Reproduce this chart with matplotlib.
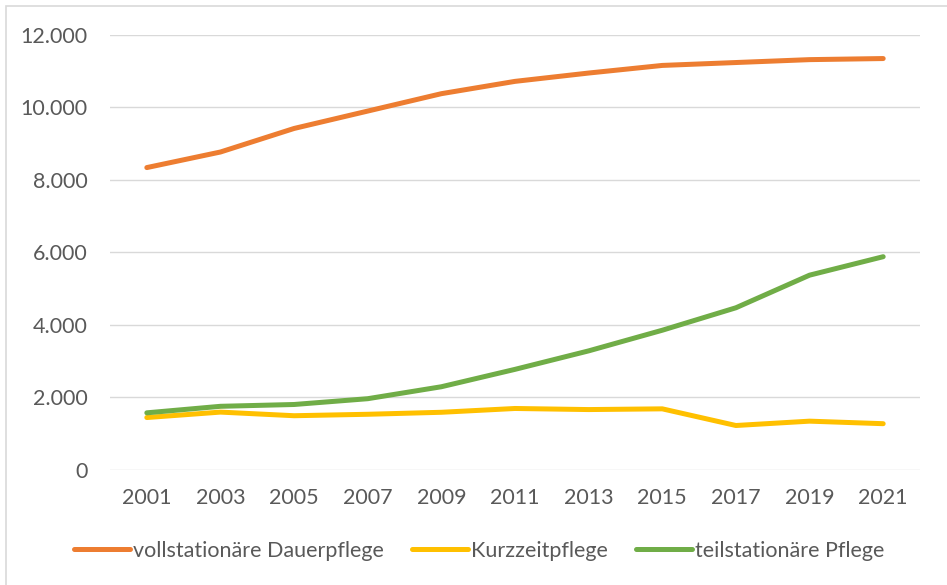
import numpy as np
import matplotlib.pyplot as plt
from matplotlib.patches import Rectangle

years = ['2001', '2003', '2005', '2007', '2009', '2011', '2013', '2015', '2017', '2019', '2021']
dauerpflege = [8340, 8770, 9420, 9900, 10380, 10720, 10950, 11160, 11240, 11320, 11350]
kurzzeitpflege = [1440, 1590, 1490, 1530, 1585, 1690, 1660, 1680, 1220, 1340, 1270]
teilstationaer = [1570, 1750, 1800, 1960, 2290, 2770, 3280, 3850, 4470, 5370, 5880]

labels = ['vollstationäre Dauerpflege', 'Kurzzeitpflege', 'teilstationäre Pflege']
colors = ['#ED7D31', '#FFC000', '#70AD47']

plt.rcParams['font.family'] = ['Lato', 'DejaVu Sans']
text_color = '#595959'

fig = plt.figure(figsize=(9.47, 5.85), dpi=100)
ax = fig.add_axes([110 / 947, 1 - 469.7 / 585, 810 / 947, 434.7 / 585])

x = np.arange(len(years))
for vals, lab, col in zip([dauerpflege, kurzzeitpflege, teilstationaer], labels, colors):
    ax.plot(x, vals, color=col, lw=3.6, label=lab, solid_capstyle='round')

ax.set_xlim(-0.5, len(years) - 0.5)
ax.set_ylim(0, 12000)
ax.set_yticks(np.arange(0, 12001, 2000))
ax.set_yticklabels(['0' if v == 0 else f'{v // 1000}.000' for v in range(0, 12001, 2000)])
ax.set_xticks(x)
ax.set_xticklabels(years)
ax.tick_params(length=0, labelsize=15.5, colors=text_color)
ax.tick_params(axis='y', pad=16)
ax.tick_params(axis='x', pad=13)
ax.grid(axis='y', color='#D9D9D9', lw=1)
ax.set_axisbelow(True)
for s in ax.spines.values():
    s.set_visible(False)

leg = fig.legend(loc='center', bbox_to_anchor=(479 / 947, 1 - 551 / 585), ncol=3,
                 frameon=False, fontsize=15.5, handlelength=2.6, handletextpad=0.15,
                 columnspacing=1.3)
for t in leg.get_texts():
    t.set_color(text_color)

# chart frame, only top and left edges fall inside the image
fig.patches.append(Rectangle((5.5 / 947, -0.1), 1.2, 0.1 + 578.5 / 585,
                             transform=fig.transFigure, fill=False,
                             edgecolor='#D9D9D9', lw=1.2))

fig.savefig('out.png', dpi=100)
